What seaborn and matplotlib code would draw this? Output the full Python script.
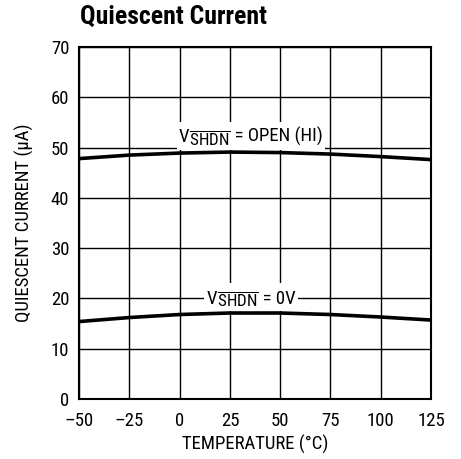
import matplotlib
matplotlib.use("Agg")
import matplotlib.pyplot as plt
from matplotlib.offsetbox import TextArea, HPacker, AnnotationBbox
import seaborn as sns
import pandas as pd

# values
temps = [-50, -25, 0, 25, 50, 75, 100, 125]
iq_open = [47.8, 48.5, 48.9, 49.1, 49.0, 48.7, 48.2, 47.6]
iq_0v = [15.4, 16.2, 16.8, 17.1, 17.1, 16.8, 16.3, 15.7]
xtick_labels = ["\u201350", "\u201325", "0", "25", "50", "75", "100", "125"]
yticks = [0, 10, 20, 30, 40, 50, 60, 70]

sns.set_style("white")
fam = ["Roboto Condensed", "Archivo Narrow", "DejaVu Sans"]
plt.rcParams["font.family"] = fam
plt.rcParams["text.color"] = "black"
plt.rcParams["axes.labelcolor"] = "black"
plt.rcParams["xtick.color"] = "black"
plt.rcParams["ytick.color"] = "black"
plt.rcParams["mathtext.fontset"] = "custom"
plt.rcParams["mathtext.rm"] = "Roboto Condensed"
plt.rcParams["mathtext.it"] = "Roboto Condensed"

df = pd.DataFrame({
    "temp": temps * 2,
    "iq": iq_open + iq_0v,
    "cond": ["open"] * len(temps) + ["0v"] * len(temps),
})

fig = plt.figure(figsize=(4.61, 4.59), dpi=100)
ax = fig.add_axes([0.1714, 0.1307, 0.7636, 0.767])

sns.lineplot(data=df, x="temp", y="iq", units="cond", estimator=None,
             color="black", lw=2.6, ax=ax, zorder=3)

ax.set_xlim(-50, 125)
ax.set_ylim(0, 70)
ax.set_xticks(temps)
ax.set_xticklabels(xtick_labels)
ax.set_yticks(yticks)
ax.grid(True, color="black", lw=1.0)
ax.tick_params(length=0, labelsize=13.5)
ax.tick_params(axis="x", pad=9)
ax.tick_params(axis="y", pad=7)
for s in ax.spines.values():
    s.set_color("black")
    s.set_linewidth(1.5)

ax.set_xlabel("TEMPERATURE (\u00b0C)", fontsize=13.5, labelpad=4)
ax.set_ylabel("QUIESCENT CURRENT (\u00b5A)", fontsize=13.5, labelpad=12)


def vshdn_label(x, y, rest):
    # V + lowered, overlined SHDN + rest, packed on one baseline, white backing
    parts = [
        TextArea("V", textprops=dict(fontsize=13.5)),
        TextArea(r"${}_{\overline{\mathrm{SHDN}}}$", textprops=dict(fontsize=17.5)),
        TextArea(rest, textprops=dict(fontsize=13.5)),
    ]
    pack = HPacker(children=parts, align="baseline", pad=0, sep=0)
    ab = AnnotationBbox(pack, (x, y), xycoords="data", box_alignment=(0.5, 0.5),
                        frameon=True, pad=0.15,
                        bboxprops=dict(facecolor="white", edgecolor="none"))
    ab.set_zorder(4)
    ax.add_artist(ab)


vshdn_label(35.5, 52.3, "\u2009= OPEN (HI)")
vshdn_label(35.5, 20.2, "\u2009= 0V")

fig.text(0.174, 0.963, "Quiescent Current", fontsize=18.5, fontweight="bold",
         ha="left", va="center")

fig.savefig("out.png", dpi=100)
